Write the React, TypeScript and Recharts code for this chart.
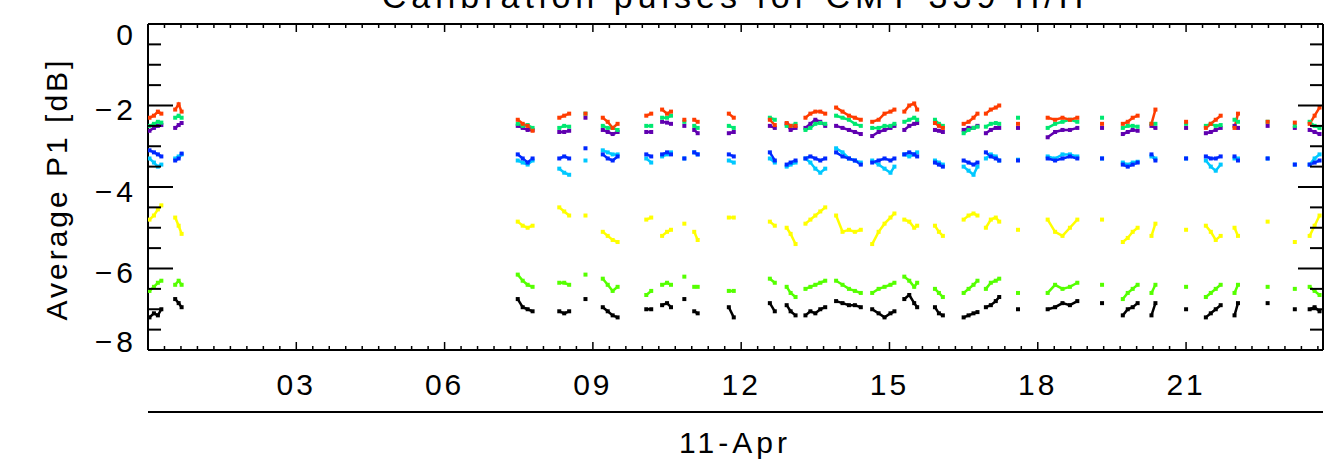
import { ComposedChart, Line, XAxis, YAxis } from 'recharts';

// sample times (hours of 11-Apr), grouped in bursts
const hours = [
  0.03, 0.12, 0.2, 0.27,
  0.55, 0.62, 0.68,
  7.48, 7.58, 7.68, 7.78,
  8.32, 8.42, 8.52,
  8.85,
  9.2, 9.3, 9.4, 9.5,
  10.08, 10.18,
  10.4, 10.5, 10.58,
  10.85,
  11.05, 11.12,
  11.75, 11.85,
  12.58, 12.68,
  12.92, 13.0, 13.1,
  13.3, 13.4, 13.5, 13.6, 13.7,
  13.92, 14.05, 14.18, 14.3, 14.42,
  14.65, 14.78, 14.9, 15.02, 15.1,
  15.3, 15.4, 15.5, 15.56,
  15.92, 16.0, 16.08,
  16.5, 16.6, 16.7, 16.78,
  16.95, 17.05, 17.15, 17.22,
  17.6,
  18.2, 18.35, 18.5, 18.65, 18.8,
  19.3,
  19.72, 19.82, 19.92, 20.02,
  20.3, 20.38,
  21.0,
  21.4, 21.5, 21.6, 21.7,
  21.98, 22.05,
  22.65,
  23.2,
  23.5, 23.6, 23.7,
];
const burstSizes = [4, 3, 4, 3, 1, 4, 2, 3, 1, 2, 2, 2, 3, 5, 5, 5, 4, 3, 4, 4, 1, 5, 1, 4, 2, 1, 4, 2, 1, 1, 3];

const red = [
  -2.3, -2.25, -2.15, -2.2, -2.1, -1.97, -2.15, -2.35, -2.45, -2.5, -2.62, -2.3, -2.25, -2.2, -2.2,
  -2.3, -2.4, -2.55, -2.45, -2.25, -2.2, -2.1, -2.2, -2.15, -2.35, -2.35, -2.4, -2.2, -2.3,
  -2.35, -2.48, -2.43, -2.5, -2.5, -2.3, -2.2, -2.15, -2.15, -2.2, -2.05, -2.15, -2.25, -2.3, -2.35,
  -2.4, -2.35, -2.2, -2.15, -2.1, -2.15, -2.0, -1.95, -2.1, -2.43, -2.5, -2.55, -2.45, -2.4, -2.3, -2.2,
  -2.2, -2.1, -2.05, -2.0, -2.45, -2.3, -2.35, -2.3, -2.35, -2.3, -2.45, -2.45, -2.4, -2.3, -2.25,
  -2.45, -2.1, -2.4, -2.55, -2.45, -2.35, -2.25, -2.55, -2.2, -2.4, -2.42, -2.45, -2.25, -2.05,
];
const green = [
  -2.5, -2.45, -2.4, -2.42, -2.3, -2.25, -2.3, -2.45, -2.5, -2.48, -2.55, -2.55, -2.5, -2.52, -2.2,
  -2.5, -2.55, -2.55, -2.6, -2.5, -2.5, -2.3, -2.3, -2.25, -2.4, -2.5, -2.55, -2.5, -2.55,
  -2.3, -2.35, -2.5, -2.5, -2.45, -2.6, -2.55, -2.45, -2.43, -2.45, -2.25, -2.3, -2.35, -2.45, -2.5,
  -2.55, -2.55, -2.5, -2.5, -2.45, -2.4, -2.35, -2.3, -2.35, -2.35, -2.45, -2.5, -2.68, -2.6, -2.55, -2.52,
  -2.52, -2.45, -2.43, -2.45, -2.3, -2.55, -2.45, -2.4, -2.35, -2.4, -2.3, -2.55, -2.5, -2.5, -2.52,
  -2.45, -2.45, -2.45, -2.5, -2.45, -2.5, -2.48, -2.35, -2.4, -2.4, -2.5, -2.4, -2.5, -2.55,
];
const purple = [
  -2.62, -2.55, -2.5, -2.48, -2.55, -2.48, -2.43, -2.5, -2.55, -2.6, -2.6, -2.65, -2.65, -2.62, -2.3,
  -2.6, -2.65, -2.7, -2.65, -2.65, -2.65, -2.4, -2.42, -2.45, -2.5, -2.6, -2.68, -2.68, -2.65,
  -2.5, -2.55, -2.45, -2.6, -2.55, -2.55, -2.45, -2.35, -2.4, -2.5, -2.5, -2.55, -2.6, -2.65, -2.7,
  -2.75, -2.65, -2.6, -2.55, -2.5, -2.6, -2.5, -2.45, -2.43, -2.6, -2.62, -2.65, -2.6, -2.55, -2.55, -2.5,
  -2.68, -2.6, -2.55, -2.55, -2.55, -2.78, -2.65, -2.6, -2.6, -2.55, -2.55, -2.7, -2.65, -2.6, -2.62,
  -2.5, -2.55, -2.55, -2.68, -2.65, -2.6, -2.55, -2.5, -2.55, -2.5, -2.55, -2.6, -2.65, -2.7,
];
const blue = [
  -3.1, -3.15, -3.2, -3.25, -3.35, -3.3, -3.18, -3.2, -3.3, -3.4, -3.3, -3.3, -3.25, -3.3, -3.05,
  -3.2, -3.3, -3.35, -3.25, -3.2, -3.25, -3.2, -3.15, -3.2, -3.3, -3.15, -3.2, -3.2, -3.25,
  -3.15, -3.35, -3.45, -3.4, -3.35, -3.3, -3.25, -3.3, -3.35, -3.3, -3.15, -3.25, -3.3, -3.35, -3.45,
  -3.4, -3.35, -3.3, -3.35, -3.3, -3.2, -3.15, -3.2, -3.25, -3.4, -3.45, -3.5, -3.35, -3.4, -3.45, -3.4,
  -3.15, -3.25, -3.3, -3.35, -3.35, -3.3, -3.35, -3.3, -3.25, -3.3, -3.3, -3.45, -3.5, -3.45, -3.4,
  -3.2, -3.35, -3.3, -3.25, -3.3, -3.3, -3.25, -3.25, -3.35, -3.3, -3.45, -3.45, -3.4, -3.35,
];
const cyan = [
  -3.3, -3.4, -3.5, -3.45, -3.3, -3.25, -3.2, -3.35, -3.4, -3.45, -3.35, -3.55, -3.65, -3.7, -3.35,
  -3.1, -3.15, -3.2, -3.2, -3.3, -3.4, -3.25, -3.2, -3.15, -3.3, -3.15, -3.2, -3.35, -3.4,
  -3.3, -3.4, -3.5, -3.45, -3.4, -3.3, -3.4, -3.55, -3.65, -3.55, -3.05, -3.15, -3.3, -3.35, -3.4,
  -3.35, -3.45, -3.55, -3.65, -3.5, -3.2, -3.25, -3.2, -3.15, -3.35, -3.4, -3.45, -3.5, -3.6, -3.7, -3.5,
  -3.3, -3.2, -3.25, -3.35, -3.33, -3.25, -3.3, -3.2, -3.2, -3.25, -3.3, -3.4, -3.45, -3.4, -3.38,
  -3.25, -3.3, -3.3, -3.35, -3.5, -3.6, -3.45, -3.3, -3.3, -3.3, -3.45, -3.45, -3.3, -3.2,
];
const yellow = [
  -4.8, -4.7, -4.55, -4.45, -4.75, -4.95, -5.15, -4.85, -4.95, -5.0, -4.95, -4.5, -4.6, -4.7, -4.7,
  -5.1, -5.2, -5.3, -5.35, -4.8, -4.75, -5.2, -5.1, -5.05, -4.9, -5.1, -5.3, -4.75, -4.75,
  -4.85, -4.95, -5.0, -5.15, -5.4, -4.9, -4.8, -4.7, -4.6, -4.5, -4.7, -5.1, -5.05, -5.1, -5.05,
  -5.4, -5.1, -4.9, -4.75, -4.65, -4.8, -4.85, -5.0, -4.95, -4.95, -5.1, -5.2, -4.8, -4.7, -4.65, -4.7,
  -5.0, -4.8, -4.75, -4.85, -5.05, -4.8, -5.1, -5.2, -5.0, -4.8, -4.8, -5.35, -5.25, -5.1, -5.0,
  -5.2, -4.9, -5.05, -4.95, -5.1, -5.3, -5.2, -5.0, -5.2, -4.85, -5.35, -5.2, -4.95, -4.7,
];
const lime = [
  -6.55, -6.45, -6.35, -6.3, -6.4, -6.3, -6.4, -6.15, -6.3, -6.4, -6.45, -6.35, -6.35, -6.4, -6.15,
  -6.25, -6.4, -6.55, -6.45, -6.65, -6.55, -6.4, -6.35, -6.4, -6.2, -6.45, -6.45, -6.55, -6.55,
  -6.25, -6.35, -6.45, -6.6, -6.7, -6.5, -6.45, -6.4, -6.35, -6.3, -6.3, -6.4, -6.5, -6.55, -6.6,
  -6.6, -6.5, -6.45, -6.4, -6.35, -6.2, -6.3, -6.45, -6.35, -6.5, -6.6, -6.7, -6.6, -6.5, -6.4, -6.3,
  -6.5, -6.35, -6.3, -6.25, -6.6, -6.6, -6.4, -6.5, -6.45, -6.35, -6.4, -6.75, -6.6, -6.5, -6.4,
  -6.6, -6.4, -6.45, -6.7, -6.6, -6.5, -6.4, -6.6, -6.4, -6.45, -6.5, -6.45, -6.55, -6.65,
];
const black = [
  -7.2, -7.1, -7.15, -7.0, -6.75, -6.85, -6.95, -6.75, -6.95, -7.0, -7.05, -7.05, -7.1, -7.05, -6.75,
  -6.95, -7.05, -7.15, -7.2, -7.0, -7.0, -6.9, -6.85, -6.95, -6.75, -7.05, -7.1, -6.95, -7.2,
  -6.85, -7.05, -6.9, -7.05, -7.15, -7.15, -7.05, -7.1, -7.0, -6.95, -6.8, -6.85, -6.9, -6.9, -6.95,
  -7.0, -7.1, -7.2, -7.1, -7.05, -6.75, -6.65, -6.85, -6.95, -6.95, -7.1, -7.15, -7.2, -7.15, -7.1, -7.07,
  -6.95, -6.9, -6.8, -6.7, -7.0, -7.0, -6.95, -6.85, -6.9, -6.8, -6.85, -7.15, -7.0, -6.95, -6.85,
  -7.15, -6.85, -7.0, -7.2, -7.1, -7.0, -6.9, -7.15, -6.85, -6.85, -7.0, -7.0, -6.95, -7.05,
];

const series = [
  { key: 'black', color: '#000000', values: black },
  { key: 'lime', color: '#55ff00', values: lime },
  { key: 'yellow', color: '#ffff00', values: yellow },
  { key: 'cyan', color: '#00c8ff', values: cyan },
  { key: 'blue', color: '#0028ff', values: blue },
  { key: 'purple', color: '#6000b0', values: purple },
  { key: 'green', color: '#00e870', values: green },
  { key: 'red', color: '#ff3c00', values: red },
];

const xMajorLabels = ['03', '06', '09', '12', '15', '18', '21'];
const yMajorLabels = ['0', '-2', '-4', '-6', '-8'];
const yLabelShift = [10, 4, 4, 4, -9];

// one row per sample, with an empty row between bursts so lines break
const rows: any[] = [];
let idx = 0;
burstSizes.forEach((n, b) => {
  if (b > 0) rows.push({ h: (hours[idx - 1] + hours[idx]) / 2 });
  for (let i = 0; i < n; i++, idx++) {
    const row: any = { h: hours[idx] };
    series.forEach((s) => (row[s.key] = s.values[idx]));
    rows.push(row);
  }
});

const X_MAX = 23.77;
const xTicks = Array.from({ length: 72 }, (_, i) => i / 3);
const yTicks = Array.from({ length: 17 }, (_, i) => -i / 2);

const font = { fontFamily: 'Liberation Sans, Arial, sans-serif', fontSize: 30, fill: '#000' };

const isXMajor = (v: number) => Math.abs(v / 3 - Math.round(v / 3)) < 1e-6;
const isYMajor = (v: number) => Math.abs(v / 2 - Math.round(v / 2)) < 1e-6;

function BottomTick({ x, y, payload }: any) {
  const v = payload.value;
  const major = isXMajor(v);
  const label = major && v > 0 ? xMajorLabels[Math.round(v / 3) - 1] : null;
  return (
    <g>
      <line x1={x} x2={x} y1={y} y2={y - (major ? 8 : 4)} stroke="#000" strokeWidth={1.5} />
      {label && (
        <text x={x} y={y + 45} textAnchor="middle" letterSpacing={3} {...font}>
          {label}
        </text>
      )}
    </g>
  );
}

function TopTick({ x, y, payload }: any) {
  const major = isXMajor(payload.value);
  return <line x1={x} x2={x} y1={y} y2={y + (major ? 8 : 4)} stroke="#000" strokeWidth={1.5} />;
}

function LeftTick({ x, y, payload }: any) {
  const v = payload.value;
  const major = isYMajor(v);
  const i = Math.round(-v / 2);
  return (
    <g>
      <line x1={x} x2={x + (major ? 25 : 13)} y1={y} y2={y} stroke="#000" strokeWidth={2} />
      {major && (
        <text x={x - 11} y={y + 10.5 + yLabelShift[i]} textAnchor="end" letterSpacing={4} {...font}>
          {yMajorLabels[i].replace('-', '\u2212')}
        </text>
      )}
    </g>
  );
}

function RightTick({ x, y, payload }: any) {
  const major = isYMajor(payload.value);
  return <line x1={x} x2={x - (major ? 25 : 13)} y1={y} y2={y} stroke="#000" strokeWidth={2} />;
}

const axisLine = { stroke: '#000', strokeWidth: 2 };

export default function App() {
  return (
    <div style={{ position: 'absolute', left: 0, top: 0, background: '#fff' }}>
      <ComposedChart width={1335} height={473} data={rows} margin={{ top: 0, right: 0, left: 0, bottom: 0 }}>
        <XAxis
          dataKey="h"
          type="number"
          domain={[0, X_MAX]}
          allowDataOverflow
          ticks={xTicks}
          interval={0}
          height={123}
          tickSize={0}
          tickMargin={0}
          axisLine={axisLine}
          tickLine={false}
          tick={(p: any) => <BottomTick {...p} />}
        />
        <XAxis
          xAxisId="top"
          orientation="top"
          dataKey="h"
          type="number"
          domain={[0, X_MAX]}
          allowDataOverflow
          ticks={xTicks}
          interval={0}
          height={24}
          tickSize={0}
          tickMargin={0}
          axisLine={axisLine}
          tickLine={false}
          tick={(p: any) => <TopTick {...p} />}
        />
        <YAxis
          type="number"
          domain={[-8, 0]}
          allowDataOverflow
          ticks={yTicks}
          interval={0}
          width={148}
          tickSize={0}
          tickMargin={0}
          axisLine={axisLine}
          tickLine={false}
          tick={(p: any) => <LeftTick {...p} />}
        />
        <YAxis
          yAxisId="right"
          orientation="right"
          type="number"
          domain={[-8, 0]}
          allowDataOverflow
          ticks={yTicks}
          interval={0}
          width={12}
          tickSize={0}
          tickMargin={0}
          axisLine={axisLine}
          tickLine={false}
          tick={(p: any) => <RightTick {...p} />}
        />
        {series.map((s) => (
          <Line
            key={s.key}
            dataKey={s.key}
            type="linear"
            stroke={s.color}
            strokeWidth={2.5}
            connectNulls={false}
            isAnimationActive={false}
            dot={(p: any) =>
              p.cy == null || p.value == null ? (
                <g key={`${s.key}-${p.index}`} />
              ) : (
                <rect key={`${s.key}-${p.index}`} x={p.cx - 2} y={p.cy - 2} width={4} height={4} fill={s.color} />
              )
            }
            activeDot={false}
          />
        ))}
        <text x={735} y={8} textAnchor="middle" letterSpacing={5} {...font} fontSize={34}>
          Calibration pulses for CMT-339 H/H
        </text>
        <text transform="translate(67,189) rotate(-90)" textAnchor="middle" letterSpacing={3} {...font}>
          Average P1 [dB]
        </text>
        <line x1={148} x2={1323} y1={412} y2={412} stroke="#000" strokeWidth={2} />
        <text x={735} y={453} textAnchor="middle" letterSpacing={4} {...font}>
          11-Apr
        </text>
      </ComposedChart>
    </div>
  );
}
